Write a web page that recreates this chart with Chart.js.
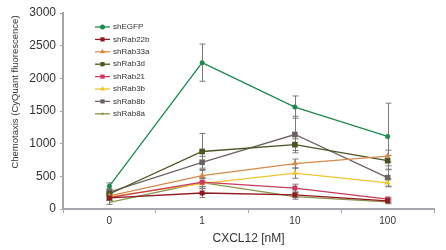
<!DOCTYPE html>
<html>
<head>
<meta charset="utf-8">
<script src="https://cdn.jsdelivr.net/npm/chart.js@4.4.1/dist/chart.umd.min.js"></script>
<style>
  html, body { margin: 0; padding: 0; background: #fff; }
  #wrap { width: 446px; height: 250px; position: relative; }
</style>
</head>
<body>
<div id="wrap"><canvas id="chart_chemotaxis"></canvas></div>
<script>
// CXCL12 doses (x categories)
var doses = ['0', '1', '10', '100'];
var yTicks = [0, 500, 1000, 1500, 2000, 2500, 3000];

// mean chemotaxis per shRNA
var shEGFP   = [350, 2240, 1560, 1110];
var shRab22b = [170, 245, 215, 125];
var shRab33a = [200, 510, 695, 810];
var shRab3d  = [230, 880, 985, 740];
var shRab21  = [175, 410, 320, 150];
var shRab3b  = [190, 390, 550, 400];
var shRab8b  = [260, 715, 1140, 480];
var shRab8a  = [100, 405, 190, 110];

// error (+/-)
var errEGFP   = [50, 285, 170, 510];
var err22b    = [40, 70, 40, 30];
var err33a    = [40, 80, 70, 90];
var err3d     = [40, 275, 90, 80];
var err21     = [40, 70, 60, 30];
var err3b     = [40, 80, 80, 60];
var err8b     = [50, 90, 280, 130];
var err8a     = [30, 60, 40, 30];

var labels = ['shEGFP', 'shRab22b', 'shRab33a', 'shRab3d', 'shRab21', 'shRab3b', 'shRab8b', 'shRab8a'];
var means  = [shEGFP, shRab22b, shRab33a, shRab3d, shRab21, shRab3b, shRab8b, shRab8a];
var errs   = [errEGFP, err22b, err33a, err3d, err21, err3b, err8b, err8a];
var colors = ['#1f8a4e', '#8e1b1f', '#d48a4c', '#4b5423', '#c93a5c', '#efc530', '#6f6262', '#8c9248'];
var styles = ['circle', 'rect', 'triangle', 'rect', 'rect', 'triangle', 'rect', 'line'];
var radii  = [2.5, 3.5, 3.5, 4, 3.5, 3.5, 4, 0];

var FONT = '"Liberation Sans", Arial, sans-serif';

var datasets = labels.map(function (name, i) {
    return {
        label: name,
        data: means[i],
        err: errs[i],
        borderColor: colors[i],
        backgroundColor: colors[i],
        borderWidth: 1.3,
        pointStyle: styles[i],
        pointRadius: radii[i],
        pointBorderWidth: 0,
        tension: 0
    };
});

var errorBars = {
    id: 'errorBars',
    beforeDatasetsDraw: function (chart) {
        var ctx = chart.ctx, x = chart.scales.x, y = chart.scales.y;
        ctx.save();
        ctx.strokeStyle = '#7a7a7a';
        ctx.lineWidth = 1;
        chart.data.datasets.forEach(function (ds) {
            ds.data.forEach(function (v, j) {
                var px = Math.round(x.getPixelForValue(j)) + 0.5;
                var top = y.getPixelForValue(v + ds.err[j]);
                var bot = y.getPixelForValue(Math.max(0, v - ds.err[j]));
                ctx.beginPath();
                ctx.moveTo(px, top); ctx.lineTo(px, bot);
                ctx.moveTo(px - 3, top); ctx.lineTo(px + 3, top);
                ctx.moveTo(px - 3, bot); ctx.lineTo(px + 3, bot);
                ctx.stroke();
            });
        });
        ctx.restore();
    }
};

var sideText = {
    id: 'sideText',
    afterDraw: function (chart) {
        var ctx = chart.ctx;
        ctx.save();
        // y axis title
        ctx.translate(15, 92);
        ctx.rotate(-Math.PI / 2);
        ctx.font = '9.5px ' + FONT;
        ctx.fillStyle = '#333';
        ctx.textAlign = 'center';
        ctx.textBaseline = 'middle';
        ctx.fillText('Chemotaxis (CyQuant fluorescence)', 0, 0);
        ctx.restore();

        // legend inside plot
        ctx.save();
        ctx.font = '8px ' + FONT;
        ctx.textBaseline = 'middle';
        chart.data.datasets.forEach(function (ds, i) {
            var ly = 27 + i * 12.4;
            ctx.strokeStyle = ds.borderColor;
            ctx.fillStyle = ds.borderColor;
            ctx.lineWidth = 1.3;
            ctx.beginPath();
            ctx.moveTo(95, ly); ctx.lineTo(110, ly);
            ctx.stroke();
            var st = ds.pointStyle === 'line' ? 'rect' : ds.pointStyle;
            var r = ds.pointStyle === 'line' ? 1.5 : Math.min(ds.pointRadius, 3);
            Chart.helpers.drawPoint(ctx, { pointStyle: st, radius: r, borderWidth: 0 }, 102.5, ly);
            ctx.fillStyle = '#333';
            ctx.fillText(ds.label, 113, ly);
        });
        ctx.restore();
    }
};

var chart_chemotaxis = new Chart(document.getElementById('chart_chemotaxis'), {
    type: 'line',
    data: {
        labels: doses,
        datasets: datasets
    },
    options: {
        animation: false,
        responsive: true,
        maintainAspectRatio: false,
        layout: { padding: { top: 13, right: 12, left: 0, bottom: 0 } },
        plugins: {
            legend: { display: false },
            tooltip: { enabled: false }
        },
        scales: {
            x: {
                type: 'category',
                offset: true,
                border: { color: '#a3a7ab', width: 2 },
                grid: { drawOnChartArea: false, drawTicks: true, tickLength: 4, color: '#a3a7ab', offset: true },
                ticks: { font: { family: FONT, size: 10 }, color: '#333', padding: 2 },
                title: { display: true, text: 'CXCL12 [nM]', font: { family: FONT, size: 12 }, color: '#333', padding: { top: 2 } },
                afterFit: function (s) { s.height = 41; }
            },
            y: {
                min: 0,
                max: 3000,
                afterBuildTicks: function (s) { s.ticks = yTicks.map(function (v) { return { value: v }; }); },
                border: { color: '#a3a7ab', width: 2 },
                grid: { drawOnChartArea: false, drawTicks: true, tickLength: 3, color: '#a3a7ab' },
                ticks: {
                    font: { family: FONT, size: 12 }, color: '#333', padding: 4,
                    callback: function (v) { return String(v); }
                },
                afterFit: function (s) { s.width = 63; }
            }
        }
    },
    plugins: [errorBars, sideText]
});
</script>
</body>
</html>
